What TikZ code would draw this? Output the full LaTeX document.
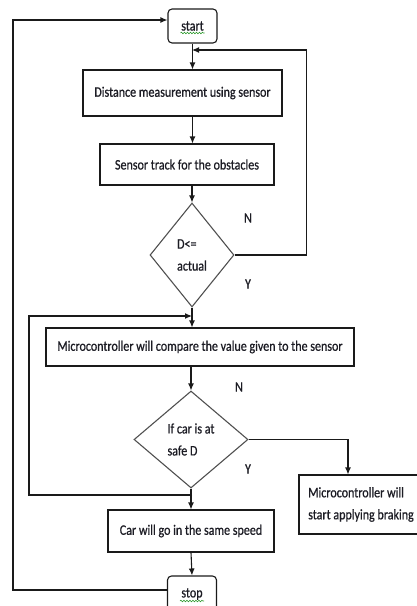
\documentclass[tikz,border=0pt]{standalone}
\usepackage{fontspec}
\setmainfont{Carlito}[FakeStretch=0.83, FakeBold=0.8]
\usetikzlibrary{positioning, shapes.geometric, arrows.meta, decorations.pathmorphing}
\definecolor{fcLine}{HTML}{1A1A1A}
\definecolor{fcDiamond}{HTML}{505050}
\definecolor{fcText}{HTML}{1C1C24}
\definecolor{fcSpell}{HTML}{2E9A2E}
\newcommand{\fcfont}{\fontsize{14.5}{22}\selectfont}
\tikzset{
    fcBoxBase/.style={
        rectangle,
        draw=fcLine,
        line width=1.1pt,
        inner sep=3pt,
        font=\fcfont,
        text=fcText,
        align=center
    },
    % Flow shapes
    fcTerm/.style={fcBoxBase, rounded corners=4pt, minimum width=49pt, minimum height=34pt},
    fcStep/.style={fcBoxBase},
    fcDecide/.style={fcBoxBase, diamond, draw=fcDiamond, inner sep=0pt, align=left},
    % Labels
    fcMark/.style={font=\fcfont, text=fcText, inner sep=1pt},
    fcSquiggle/.style={draw=fcSpell, line width=0.6pt, decorate, decoration={snake, segment length=3pt, amplitude=0.8pt}},
    % Arrows
    fcArrow/.style={-{Latex[length=7pt, width=6pt]}, line width=1.1pt, draw=fcLine},
    fcWire/.style={line width=1.1pt, draw=fcLine}
}

\begin{document}
\begin{tikzpicture}[x=1pt, y=-1pt]
    \useasboundingbox (0,0) rectangle (416,606);
    \node[fcTerm] (start) at (192.5,26) {start};
    \node[fcStep, minimum width=199pt, minimum height=46pt] (dist) at (182.5,93) {Distance measurement using sensor};
    \node[fcStep, minimum width=174pt, minimum height=41pt] (track) at (187,164.5) {Sensor track for the obstacles};
    \node[fcDecide, minimum width=84pt, minimum height=104pt] (near) at (192,255) {D<=\\actual};
    \node[fcStep, minimum width=308pt, minimum height=38pt] (cmp) at (200,347) {Microcontroller will compare the value given to the sensor};
    \node[fcDecide, minimum width=114pt, minimum height=97pt] (safe) at (191,439.5) {If car is at\\safe D};
    \node[fcStep, minimum width=124pt, minimum height=59pt, align=left] (brake) at (361,504.5) {Microcontroller will\\start applying braking};
    \node[fcStep, minimum width=166pt, minimum height=42pt] (car) at (191,531) {Car will go in the same speed};
    \node[fcTerm, minimum height=36pt] (stop) at (192,594) {stop};
    \node[fcMark] (n1) at (248,218) {N};
    \node[fcMark] (y1) at (248,284) {Y};
    \node[fcMark] (n2) at (239,387) {N};
    \node[fcMark] (y2) at (248,469) {Y};
    \coordinate (backN) at (192,50);
    \coordinate (backS) at (192,316);
    \coordinate (joinY) at (192,495);
    \draw[fcArrow] (start.south) -- (start.south |- dist.north);
    \draw[fcArrow] (start.south |- dist.south) -- (start.south |- track.north);
    \draw[fcArrow] (near.north |- track.south) -- (near.north);
    \draw[fcArrow] (near.east) -- ++(72,0) |- (backN);
    \draw[fcArrow] (near.south) -- (near.south |- cmp.north);
    \draw[fcArrow] (joinY) -- ++(-163,0) |- (backS);
    \draw[fcArrow] (safe.north |- cmp.south) -- (safe.north);
    \draw[fcArrow] (safe.east) -| ([xshift=-13pt]brake.north);
    \draw[fcArrow] (safe.south) -- (car.north);
    \draw[fcArrow] (car.south) -- (stop.north);
    \draw[fcArrow] ([yshift=4pt]stop.west) -- ++(-154,0) |- ([yshift=6pt]start.west);
    \draw[fcSquiggle] ([xshift=-12pt, yshift=-7pt]start.center) -- ([xshift=12pt, yshift=-7pt]start.center);
    \draw[fcSquiggle] ([xshift=-12pt, yshift=-7pt]stop.center) -- ([xshift=12pt, yshift=-7pt]stop.center);
\end{tikzpicture}
\end{document}
